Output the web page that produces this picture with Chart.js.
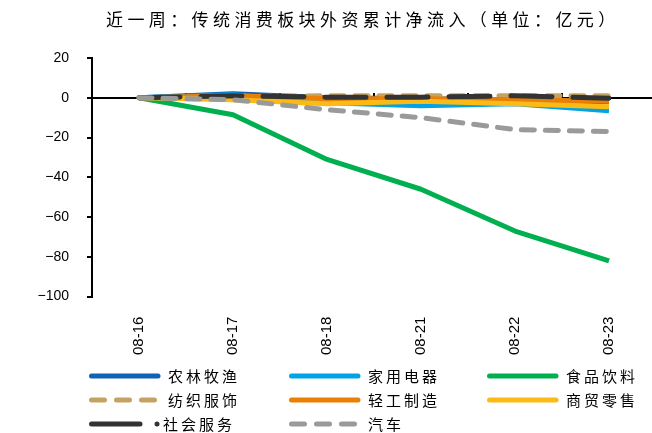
<!DOCTYPE html>
<html>
<head>
<meta charset="utf-8">
<script src="https://cdn.jsdelivr.net/npm/chart.js@4"></script>
<style>
  html, body { margin: 0; padding: 0; overflow: hidden; background: #fff; width: 652px; height: 433px; }
  #wrap { position: absolute; left: 0; top: 0; width: 656px; height: 433px; }
  #title { position: absolute; left: 106px; top: 6px; font-family: "Noto Sans CJK SC", sans-serif; font-size: 17px; letter-spacing: 4.4px; color: #000; white-space: nowrap; }
  .lg { position: absolute; height: 20px; font-family: "Noto Sans CJK SC", sans-serif; font-size: 15px; letter-spacing: 3px; color: #000; white-space: nowrap; }
  .lg svg { position: absolute; left: 0; top: 5px; }
  .lg span { position: absolute; top: -1px; }
</style>
</head>
<body>
<div id="wrap"><canvas id="flow"></canvas></div>
<div id="title">近一周：传统消费板块外资累计净流入（单位：亿元）</div>
<div id="legend"></div>
<script>
'use strict';

// dates and series (亿元)
var dates = ['08-16', '08-17', '08-18', '08-21', '08-22', '08-23'];
var nongLin = [0, 2, 0, -0.5, -1, -2];
var jiaDian = [0, 1.5, -2.5, -4, -3, -6.5];
var shiPin = [0, -8.5, -31, -46, -67, -82];
var fangZhi = [0, 0.5, 1, 1, 1, 1];
var qingGong = [0, 1, -0.5, -0.5, -1, -1.8];
var shangMao = [0, -1, -3, -1.7, -3, -4.5];
var sheHui = [0, 1, 0.3, 0.3, 1, -0.2];
var qiChe = [0, -1, -6, -10, -16, -17];
var yTicks = [20, 0, -20, -40, -60, -80, -100];

var series = [
  { label: '农林牧渔', data: nongLin, color: '#0E63B4', dash: [] },
  { label: '家用电器', data: jiaDian, color: '#00A3E6', dash: [] },
  { label: '食品饮料', data: shiPin, color: '#00B050', dash: [] },
  { label: '纺织服饰', data: fangZhi, color: '#C4A262', dash: [13, 11] },
  { label: '轻工制造', data: qingGong, color: '#EA7F05', dash: [] },
  { label: '商贸零售', data: shangMao, color: '#FBBA15', dash: [] },
  { label: '社会服务', data: sheHui, color: '#333333', dash: [41, 21] },
  { label: '汽车', data: qiChe, color: '#9A9A9A', dash: [13, 11] }
];

// zero line with small tick marks between categories
var zeroAxis = {
  id: 'zeroAxis',
  beforeDatasetsDraw: function(chart) {
    var ctx = chart.ctx;
    var x = chart.scales.x;
    var y0 = Math.round(chart.scales.y.getPixelForValue(0));
    var area = chart.chartArea;
    ctx.save();
    ctx.strokeStyle = '#000';
    ctx.lineWidth = 2;
    ctx.beginPath();
    ctx.moveTo(area.left, y0);
    ctx.lineTo(area.right, y0);
    for (var i = 1; i < dates.length; i++) {
      var bx = Math.round((x.getPixelForValue(i - 1) + x.getPixelForValue(i)) / 2);
      ctx.moveTo(bx, y0);
      ctx.lineTo(bx, y0 - 5);
    }
    ctx.stroke();
    ctx.restore();
  }
};

function createFlowChart() {
  var ctx = document.getElementById('flow');
  return new Chart(ctx, {
    type: 'line',
    data: {
      labels: dates,
      datasets: series.map(function(s, i) {
        return {
          label: s.label,
          data: s.data,
          borderColor: s.color,
          backgroundColor: s.color,
          borderWidth: 5,
          borderDash: s.dash,
          borderCapStyle: s.dash.length ? 'round' : 'butt',
          borderJoinStyle: 'round',
          pointRadius: 0,
          tension: 0,
          fill: false,
          order: series.length - i
        };
      })
    },
    options: {
      responsive: true,
      maintainAspectRatio: false,
      animation: false,
      layout: { padding: { left: 0, right: 0, top: 58, bottom: 66 } },
      plugins: {
        legend: { display: false },
        title: { display: false },
        tooltip: { enabled: false }
      },
      scales: {
        x: {
          type: 'category',
          offset: true,
          border: { display: false },
          grid: { display: false },
          ticks: {
            color: '#000',
            font: { family: 'Liberation Sans', size: 15 },
            minRotation: 90,
            maxRotation: 90,
            padding: 12
          }
        },
        y: {
          min: -100,
          max: 20,
          border: { display: true, color: '#000', width: 2 },
          grid: { drawOnChartArea: false, color: '#000', lineWidth: 2, tickLength: 5 },
          afterBuildTicks: function(scale) {
            scale.ticks = yTicks.map(function(v) { return { value: v }; });
          },
          afterFit: function(scale) { scale.width = 92; },
          ticks: {
            color: '#000',
            font: { family: 'Liberation Sans', size: 14 },
            padding: 18,
            callback: function(v) { return v < 0 ? '\u2212' + Math.abs(v) : String(v); }
          }
        }
      }
    },
    plugins: [zeroAxis]
  });
}

// legend laid out in a 3 column grid like the original
function buildLegend() {
  var cols = [89, 289, 487];
  var rows = [366, 390, 414];
  var box = document.getElementById('legend');
  series.forEach(function(s, i) {
    var div = document.createElement('div');
    div.className = 'lg';
    div.style.left = cols[i % 3] + 'px';
    div.style.top = rows[Math.floor(i / 3)] + 'px';
    var line;
    if (s.label === '社会服务') {
      line = '<line x1="2.5" y1="5" x2="51" y2="5" stroke="' + s.color + '" stroke-width="5" stroke-linecap="round"/>' +
             '<circle cx="68" cy="5" r="2.5" fill="' + s.color + '"/>';
    } else if (s.dash.length) {
      line = '<line x1="2.5" y1="5" x2="68" y2="5" stroke="' + s.color + '" stroke-width="5" stroke-linecap="round" stroke-dasharray="13 12"/>';
    } else {
      line = '<line x1="2.5" y1="5" x2="69" y2="5" stroke="' + s.color + '" stroke-width="5" stroke-linecap="round"/>';
    }
    div.innerHTML = '<svg width="74" height="10">' + line + '</svg><span style="left:' + (s.label === '社会服务' ? 74 : 79) + 'px">' + s.label + '</span>';
    box.appendChild(div);
  });
}

createFlowChart();
buildLegend();
</script>
</body>
</html>
